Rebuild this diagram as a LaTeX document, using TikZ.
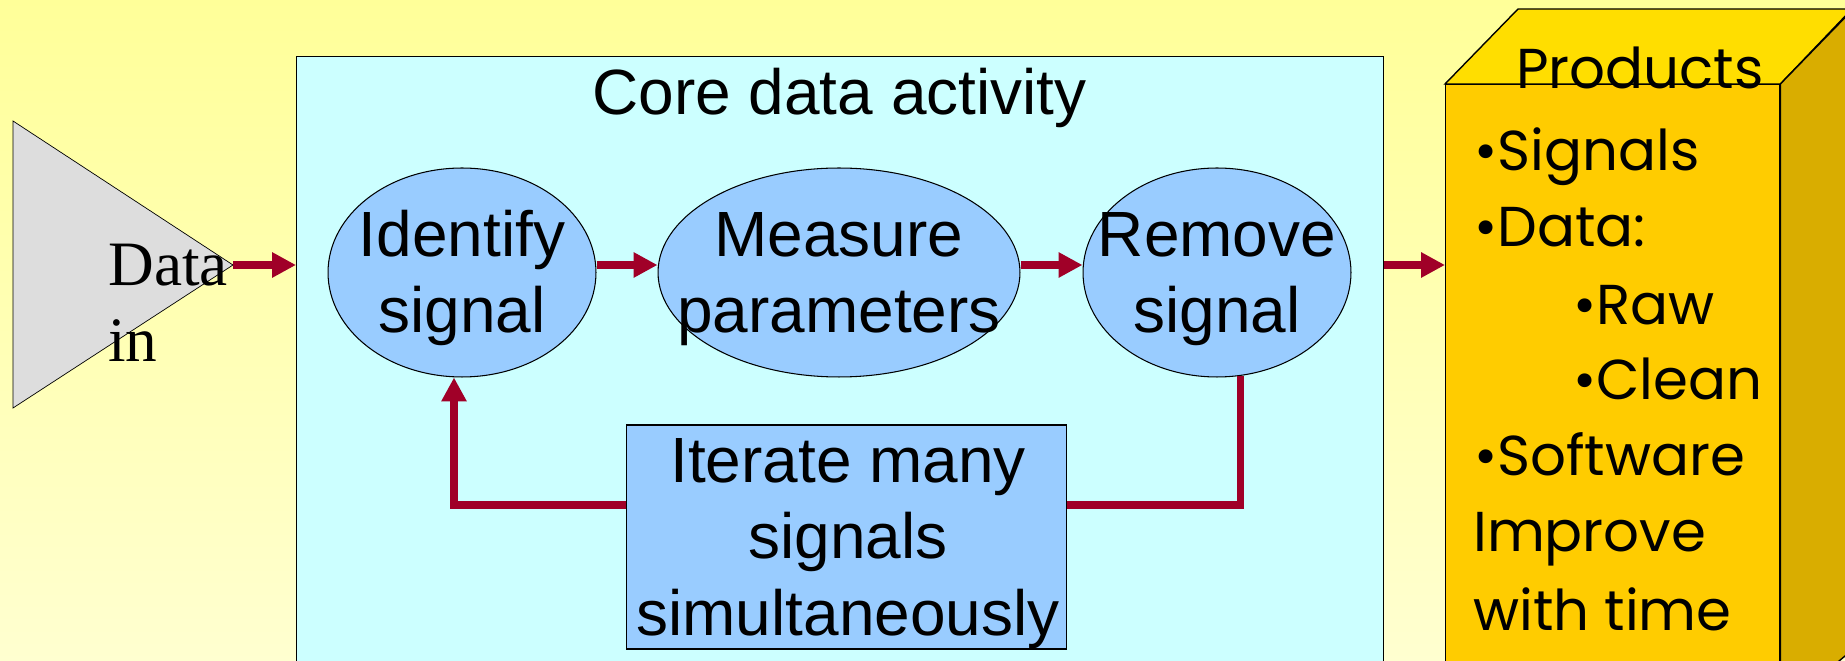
\documentclass[tikz,border=0pt]{standalone}
\usepackage{fontspec}
\setmainfont{Liberation Serif}
\newfontfamily\arialfont{Liberation Sans}
\newfontfamily\handfont{Poppins}
\usetikzlibrary{arrows.meta,shapes.geometric}
\definecolor{bgtop}{RGB}{255,255,153}
\definecolor{bgbottom}{RGB}{255,255,208}
\definecolor{coreblue}{RGB}{204,255,255}
\definecolor{blobblue}{RGB}{153,204,255}
\definecolor{flowred}{RGB}{160,0,40}
\definecolor{prodfront}{RGB}{255,204,0}
\definecolor{prodtop}{RGB}{255,222,0}
\definecolor{prodside}{RGB}{217,173,0}
\definecolor{triangray}{RGB}{221,221,221}

\begin{document}
\begin{tikzpicture}[x=0.02cm,y=-0.02cm,
  flow/.style={line width=4pt, flowred, -{Triangle[length=0.48cm,width=0.48cm]}},
  wire/.style={line width=4pt, flowred},
  bigtext/.style={font=\arialfont\fontsize{36.4}{43.3}\selectfont, align=center, anchor=base},
  blob/.style={ellipse, draw, semithick, fill=blobblue, inner sep=0pt, minimum height=4.18cm},
  prodtext/.style={font=\handfont\fontsize{32}{40}\selectfont, anchor=base west}]
\useasboundingbox (0,0) rectangle (1845,661);
\clip (0,0) rectangle (1845,661);
\shade[top color=bgtop, bottom color=bgbottom] (0,0) rectangle (1845,661);

\draw[fill=triangray] (13,121) -- (233,265) -- (13,408) -- cycle;
\coordinate (datatip) at (233,265);
\node[anchor=base west, font=\fontsize{36}{43.8}\selectfont, align=left, inner sep=0pt] (datain) at (108,362) {Data\\in};

\node[draw, thick, fill=coreblue, anchor=north west, minimum width=21.74cm, minimum height=14cm] (core) at (296,56) {};
\node[bigtext] (coretitle) at (839.5,115) {Core data activity};

\node[blob, minimum width=5.36cm] (ident) at (462,272.5) {};
\node[blob, minimum width=7.24cm] (measure) at (839,272.5) {};
\node[blob, minimum width=5.36cm] (remove) at (1217,272.5) {};
\node[bigtext] (identtxt) at (462,333) {Identify\\signal};
\node[bigtext] (measuretxt) at (839,333) {Measure\\parameters};
\node[bigtext] (removetxt) at (1217,333) {Remove\\signal};
\node[draw, semithick, fill=blobblue, minimum width=8.81cm, minimum height=4.48cm] (iter) at (846.75,537) {};
\node[bigtext, font=\arialfont\fontsize{36.4}{43.5}\selectfont] (itertxt) at (848,635) {Iterate many\\signals\\simultaneously};

\node[draw, thick, fill=prodfront, anchor=north west, minimum width=6.68cm, minimum height=12.5cm] (prod) at (1445,84) {};
\draw[thick, fill=prodtop] (prod.north west) -- ++(73,-75) -- ++(334,0) -- (prod.north east) -- cycle;
\draw[thick, fill=prodside] (prod.north east) -- ++(73,-75) -- ++(0,640) -- (prod.south east) -- cycle;
\foreach \xx/\yy/\txt [count=\k] in {1510/89/Products, 1468/171/•Signals, 1468/247/•Data:, 1567/325/•Raw, 1567/400/•Clean, 1468/476/•Software, 1467/552/Improve, 1467/630/with time}
  \node[prodtext] (prodline\k) at (\xx,\yy) {\txt};

\draw[flow] (datatip) -- (core.west |- datatip);
\draw[flow] (ident.east |- datatip) -- (measure.west |- datatip);
\draw[flow] (measure.east |- datatip) -- (remove.west |- datatip);
\draw[flow] (core.east |- datatip) -- (prod.west |- datatip);
\draw[flow] ([yshift=0.64cm]iter.west) -| ([xshift=-0.16cm]ident.south);
\draw[wire] ([yshift=0.64cm]iter.east) -| ([xshift=0.46cm,yshift=0.03cm]remove.south);
\end{tikzpicture}
\end{document}
